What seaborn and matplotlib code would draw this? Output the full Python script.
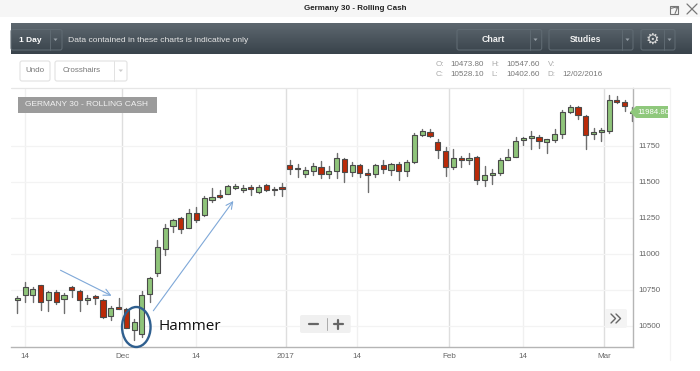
import numpy as np
import pandas as pd
import seaborn as sns
import matplotlib.pyplot as plt
from matplotlib.patches import Rectangle, Ellipse, FancyBboxPatch, Polygon

opens = [10678, 10712, 10712, 10782, 10682, 10733, 10689, 10772, 10742, 10682,
         10705, 10680, 10571, 10631, 10615, 10473.8, 10446, 10724, 10868, 11037,
         11197, 11252, 11181, 11282, 11268, 11377, 11410, 11419, 11456, 11442,
         11463, 11433, 11477, 11453, 11464, 11615, 11599, 11552, 11575, 11603,
         11557, 11578, 11659, 11566, 11615, 11562, 11557, 11619, 11585, 11624,
         11573, 11640, 11823, 11846, 11777, 11717, 11601, 11666, 11650, 11673,
         11511, 11548, 11564, 11650, 11675, 11789, 11805, 11814, 11779, 11789,
         11833, 11988, 12022, 11957, 11835, 11844, 11851, 12071, 12052, 11975]
closes = [10691, 10772, 10759, 10664, 10733, 10664, 10715, 10747, 10682, 10694,
          10694, 10559, 10627, 10620, 10488, 10528.1, 10712, 10833, 11049, 11183,
          11236, 11174, 11282, 11236, 11386, 11396, 11398, 11470, 11470, 11456,
          11451, 11467, 11446, 11442, 11453, 11587, 11587, 11580, 11610, 11557,
          11575, 11663, 11569, 11615, 11562, 11550, 11619, 11592, 11624, 11578,
          11638, 11825, 11851, 11818, 11721, 11604, 11668, 11652, 11668, 11511,
          11550, 11562, 11655, 11673, 11786, 11807, 11816, 11784, 11796, 11830,
          11988, 12022, 11962, 11826, 11847, 11858, 12071, 12055, 12027, 11984.8]
highs = [10708, 10803, 10768, 10786, 10742, 10747, 10726, 10777, 10749, 10712,
         10715, 10687, 10638, 10694, 10622, 10547.6, 10740, 10842, 11095, 11208,
         11245, 11257, 11315, 11324, 11403, 11456, 11444, 11481, 11486, 11481,
         11481, 11479, 11486, 11467, 11490, 11652, 11624, 11606, 11629, 11645,
         11610, 11700, 11666, 11640, 11624, 11592, 11626, 11652, 11633, 11638,
         11652, 11837, 11870, 11865, 11795, 11740, 11729, 11680, 11699, 11680,
         11611, 11592, 11666, 11726, 11814, 11814, 11851, 11823, 11798, 11865,
         11999, 12036, 12027, 11964, 11872, 11872, 12106, 12096, 12069, 12018]
lows = [10587, 10668, 10666, 10610, 10606, 10652, 10592, 10703, 10603, 10652,
        10652, 10557, 10539, 10615, 10485, 10402.6, 10423, 10668, 10847, 10993,
        11150, 11148, 11181, 11224, 11266, 11363, 11391, 11416, 11451, 11430,
        11410, 11426, 11437, 11410, 11404, 11555, 11534, 11536, 11548, 11527,
        11527, 11527, 11497, 11538, 11534, 11430, 11536, 11564, 11550, 11513,
        11543, 11633, 11820, 11814, 11666, 11541, 11592, 11606, 11627, 11483,
        11470, 11486, 11548, 11650, 11675, 11756, 11729, 11735, 11698, 11779,
        11803, 11976, 11934, 11726, 11800, 11784, 11842, 12045, 11995, 11925]

y_ticks = [10500, 10750, 11000, 11250, 11500, 11750]
x_tick_pos = [1, 13.5, 23, 34.5, 43.6, 55.45, 64.9, 75.4]
x_tick_labels = ['14', 'Dec', '14', '2017', '14', 'Feb', '14', 'Mar']
major_pos = [13.5, 34.5, 55.45, 75.4]

df = pd.DataFrame({'i': range(len(opens)), 'open': opens, 'close': closes, 'high': highs, 'low': lows})
df['bottom'] = df[['open', 'close']].min(axis=1)
df['body'] = (df['open'] - df['close']).abs()

wicks = df.melt(id_vars='i', value_vars=['high', 'low'], value_name='price')

sns.set_theme(style='white')
plt.rcParams['font.family'] = ['Liberation Sans', 'DejaVu Sans']

fig = plt.figure(figsize=(7, 3.71), dpi=100)
ax = fig.add_axes([11 / 700, 1 - 347 / 371, 622 / 700, 259 / 371])

sns.lineplot(data=wicks, x='i', y='price', units='i', estimator=None, color='#6e6e6e',
             linewidth=1.0, ax=ax, legend=False, zorder=2)
for rows, col in [(df[df['close'] >= df['open']], '#8fc47a'), (df[df['close'] < df['open']], '#bb2a08')]:
    ax.bar(rows['i'], rows['body'], bottom=rows['bottom'], width=0.66, color=col,
           edgecolor='#4a4a4a', linewidth=0.8, zorder=3)

ax.set_xlim(-0.81, 79.07)
ax.set_ylim(10354, 12152)
ax.set_xlabel('')
ax.set_ylabel('')
ax.set_xticks(x_tick_pos)
ax.set_xticklabels(x_tick_labels)
ax.yaxis.tick_right()
ax.set_yticks(y_ticks)
ax.tick_params(axis='both', labelsize=5.8, labelcolor='#666666', length=0, pad=4)
ax.grid(axis='y', color='#f3f3f3', linewidth=0.9)
for p in x_tick_pos:
    ax.axvline(p, color='#dedede' if p in major_pos else '#f0f0f0', linewidth=1.0, zorder=0)
for s in ['top', 'left']:
    ax.spines[s].set_visible(False)
for s in ['right', 'bottom']:
    ax.spines[s].set_color('#b5b5b5')
    ax.spines[s].set_linewidth(1.0)

# page furniture, in reference pixels
ov = fig.add_axes([0, 0, 1, 1], facecolor='none')
ov.set_xlim(0, 700)
ov.set_ylim(371, 0)
ov.axis('off')

ov.add_patch(Rectangle((0, 0), 700, 17, color='#f6f6f6', lw=0))
ov.text(355, 8.5, 'Germany 30 - Rolling Cash', ha='center', va='center', fontsize=5.8,
        fontweight='bold', color='#222222')
ov.add_patch(Rectangle((669.5, 6), 8.5, 8, fill=False, ec='#777777', lw=0.8))
ov.annotate('', xy=(681, 4), xytext=(674, 10), arrowprops=dict(arrowstyle='->', color='#777777', lw=0.8))
ov.plot([687, 697], [4, 14], color='#777777', lw=0.9)
ov.plot([687, 697], [14, 4], color='#777777', lw=0.9)

grad = np.linspace(0, 1, 32).reshape(-1, 1)
ov.imshow(grad, extent=(11, 692, 54, 23), cmap=sns.blend_palette(['#5d676f', '#39434b'], as_cmap=True),
          aspect='auto', zorder=1)
ov.set_xlim(0, 700)
ov.set_ylim(371, 0)
for x0, x1 in [(11, 62), (457, 541.7), (549, 633), (641, 675)]:
    ov.add_patch(FancyBboxPatch((x0, 29.5), x1 - x0, 20.5, boxstyle='round,pad=0,rounding_size=2',
                                fill=False, ec='#5f6a72', lw=0.8, zorder=2))
for x in [50, 530, 622, 664]:
    ov.plot([x, x], [29.5, 50], color='#5f6a72', lw=0.7, zorder=2)
    ov.add_patch(Polygon([(x + 3.5, 38.5), (x + 7.5, 38.5), (x + 5.5, 41)], color='#9aa3aa', lw=0, zorder=3))
ov.text(19, 40, '1 Day', va='center', fontsize=6, fontweight='bold', color='white', zorder=3)
ov.text(68, 40, 'Data contained in these charts is indicative only', va='center', fontsize=6.1,
        color='#e4e4e4', zorder=3)
ov.text(493, 40, 'Chart', ha='center', va='center', fontsize=6.4, fontweight='bold', color='#f0f0f0', zorder=3)
ov.text(585, 40, 'Studies', ha='center', va='center', fontsize=6.2, fontweight='bold', color='#f0f0f0', zorder=3)
ov.text(652, 39.5, '\u2699', ha='center', va='center', fontsize=11, color='#d8d8d8',
        family='DejaVu Sans', zorder=3)

for x0, x1 in [(20, 50), (55, 127)]:
    ov.add_patch(FancyBboxPatch((x0, 61), x1 - x0, 20, boxstyle='round,pad=0,rounding_size=2',
                                fc='white', ec='#e2e2e2', lw=0.8))
ov.text(35, 71, 'Undo', ha='center', va='center', fontsize=5.8, color='#777777')
ov.text(63, 71, 'Crosshairs', va='center', fontsize=5.8, color='#777777')
ov.plot([114, 114], [61, 81], color='#e2e2e2', lw=0.7)
ov.add_patch(Polygon([(118.5, 69.5), (123, 69.5), (120.8, 72)], color='#cccccc', lw=0))

for x, label in [(436, 'O:'), (491.7, 'H:'), (547.7, 'V:')]:
    ov.text(x, 65, label, va='center', fontsize=5.8, color='#aaaaaa')
for x, label in [(436, 'C:'), (491.7, 'L:'), (547.7, 'D:')]:
    ov.text(x, 75, label, va='center', fontsize=5.8, color='#aaaaaa')
for x, y, label in [(450, 65, '10473.80'), (506, 65, '10547.60'), (450, 75, '10528.10'),
                    (506, 75, '10402.60'), (562, 75, '12/02/2016')]:
    ov.text(x, y, label, va='center', fontsize=5.8, color='#777777')

ov.plot([11, 670], [87.5, 87.5], color='#e6e6e6', lw=0.9)
ov.plot([670, 670], [87.5, 360], color='#f3f3f3', lw=0.9)

ov.add_patch(Rectangle((18, 97), 139, 16, color='#9b9b9b', lw=0))
ov.text(25, 105, 'GERMANY 30 - ROLLING CASH', va='center', fontsize=6.0, color='#f2f2f2')

ov.add_patch(Polygon([(630, 112), (636, 106), (668, 106), (668, 118), (636, 118)], color='#8fc87c', lw=0, zorder=4))
ov.text(637, 112, '11984.80', va='center', fontsize=5.6, color='white', zorder=5)

ov.add_patch(FancyBboxPatch((300, 315), 50.7, 18, boxstyle='round,pad=0,rounding_size=2', color='#f0f0f0', lw=0))
ov.plot([309, 318], [324, 324], color='#666666', lw=1.6)
ov.plot([333.5, 342.5], [324, 324], color='#666666', lw=1.6)
ov.plot([338, 338], [319.5, 329], color='#666666', lw=1.6)
ov.plot([326.5, 326.5], [318, 330], color='#aaaaaa', lw=0.7)
ov.add_patch(FancyBboxPatch((605, 309), 22, 19, boxstyle='round,pad=0,rounding_size=2', color='#f4f4f4', lw=0))
ov.plot([611, 615.5, 611], [314, 318.5, 323], color='#666666', lw=1.0)
ov.plot([616, 620.5, 616], [314, 318.5, 323], color='#666666', lw=1.0)

ov.add_patch(Ellipse((136.3, 327), 28.5, 40, fill=False, ec='#2f5f8f', lw=1.7, zorder=6))
ov.text(159, 327, 'Hammer', va='center', fontsize=11, color='#111111', family='Open Sans', zorder=6)
ov.annotate('', xy=(114, 297), xytext=(58, 269), arrowprops=dict(arrowstyle='->', color='#7fa8d8', lw=0.8), zorder=6)
ov.annotate('', xy=(235, 198.7), xytext=(151.7, 313), arrowprops=dict(arrowstyle='->', color='#7fa8d8', lw=0.8), zorder=6)

fig.savefig('out.png', dpi=100)
